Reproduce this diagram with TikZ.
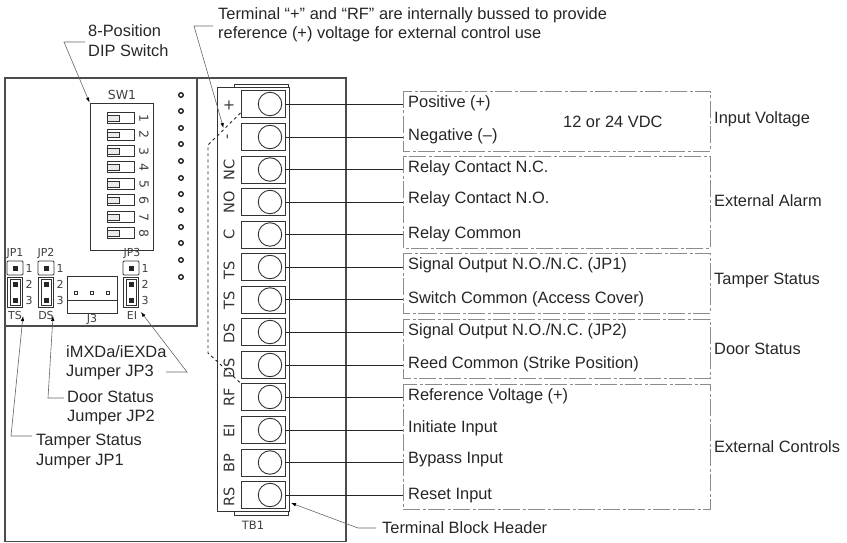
\documentclass[tikz,border=0pt]{standalone}
\usepackage{fontspec}
\setmainfont{Liberation Sans}
\newfontfamily\pcbfont{DejaVu Sans}
\usetikzlibrary{calc,arrows.meta}
\tikzset{
	pic unit/.style={x=1pt,y=-1pt},
	board/.style={draw=black!70,line width=1.2pt},
	part/.style={draw=black!80,line width=0.9pt},
	wire/.style={draw=black!85,line width=0.9pt},
	group/.style={draw=black!45,line width=0.9pt,dash pattern=on 17pt off 2.5pt on 3pt off 2.5pt},
	leader/.style={draw=black!60,line width=0.6pt,-{Latex[length=5pt,width=3.5pt,black]}},
	note/.style={inner sep=0pt,anchor=west,text=black!85,font=\fontsize{16.4}{16.4}\selectfont},
	termtext/.style={inner sep=0pt,rotate=90,text=black!80,font=\pcbfont\fontsize{14.5}{14.5}\selectfont},
	pcbtext/.style={inner sep=0pt,text=black!75,font=\pcbfont\fontsize{11}{11}\selectfont},
	pinhole/.style={draw=black!90,line width=1.3pt}
}
% terminal cell: name, y of screw, y of text, text
\def\termcell(#1)(#2)(#3)#4{
	\node[part,minimum width=44pt,minimum height=27pt,inner sep=0pt] (#1) at (263, #2) {};
	\node[part,circle,minimum size=23.5pt,inner sep=0pt] (#1s) at (270, #2) {};
	\node[termtext] (#1t) at (229, #3) {#4};
	\coordinate (#1w) at (403, #2);
	\draw[wire] (#1.east) -- (#1w);
}
% dip switch row: name, y, digit
\def\dipsw(#1)(#2)#3{
	\node[part,minimum width=27pt,minimum height=11pt,inner sep=0pt] (#1) at (120.5, #2) {};
	\draw[part,line width=0.6pt,fill=black!8] (107, #2-2.5) rectangle (119, #2+3);
	\node[pcbtext,rotate=-90,font=\pcbfont\fontsize{12.5}{12.5}\selectfont] (#1t) at (144, #2) {#3};
}
% jumper: name, x, y of pin 1
\def\jumper(#1)(#2)(#3){
	\node[part,minimum width=16pt,minimum height=14pt,inner sep=0pt,rounded corners=1pt] (#1a) at (#2, #3) {};
	\node[part,line width=1.5pt,minimum width=15pt,minimum height=30pt,inner sep=0pt] (#1b) at (#2, #3+24.5) {};
	\node[part,line width=0.5pt,minimum width=10pt,minimum height=26pt,inner sep=0pt] (#1c) at (#2, #3+24.5) {};
	\fill[black!85] (#2-2.5, #3-2.5) rectangle (#2+2.5, #3+2.5);
	\fill[black!85] (#2-2.5, #3+14) rectangle (#2+2.5, #3+19);
	\fill[black!85] (#2-2.5, #3+30) rectangle (#2+2.5, #3+35);
	\node[pcbtext] (#1n1) at (#2+14, #3) {1};
	\node[pcbtext] (#1n2) at (#2+14, #3+16) {2};
	\node[pcbtext] (#1n3) at (#2+14, #3+32) {3};
}
\begin{document}
\begin{tikzpicture}[pic unit]
	%%%%% START %%%%%
	\useasboundingbox (0, 0) rectangle (847, 543);

	\draw[board] (5, 78) rectangle (346, 541.5);
	\draw[board] (197, 78) -- (197, 326) -- (5, 326);

	\draw[part] (234, 87) -- (234, 84) -- (288, 84) -- (288, 87);
	\draw[part] (234, 511) -- (234, 515) -- (288, 515) -- (288, 511);
	\node[part,minimum width=72pt,minimum height=424pt,inner sep=0pt] (block) at (253, 299) {};

	\termcell(t1)(104)(105){+}
	\termcell(t2)(137)(137){-}
	\termcell(t3)(169.5)(170){NC}
	\termcell(t4)(202)(202){NO}
	\termcell(t5)(234.5)(234){C}
	\termcell(t6)(267)(270){TS}
	\termcell(t7)(299.5)(300){TS}
	\termcell(t8)(332)(333){DS}
	\termcell(t9)(365)(368){DS}
	\termcell(t10)(397)(397){RF}
	\termcell(t11)(430)(431){EI}
	\termcell(t12)(462.5)(463){BP}
	\termcell(t13)(495)(497){RS}
	\node[pcbtext,font=\pcbfont\fontsize{11.5}{11.5}\selectfont] (tb) at (253, 525) {TB1};

	\coordinate (bus1) at (208, 145);
	\coordinate (bus2) at (208, 353);
	\draw[black!85,line width=0.9pt,dashed] ($(t1.south west)+(0, -5)$) -- (bus1) -- (bus2) -- (t10.north west);

	\draw[group] (403, 91) rectangle (710, 151);
	\draw[group] (403, 156) rectangle (710, 248);
	\draw[group] (403, 253) rectangle (710, 313);
	\draw[group] (403, 319) rectangle (710, 378);
	\draw[group] (403, 384) rectangle (710, 509);

	\node[note] (l1) at (408, 103) {Positive (+)};
	\node[note] (l2) at (408, 136) {Negative (–)};
	\node[note] (l3) at (408, 168) {Relay Contact N.C.};
	\node[note] (l4) at (408, 199) {Relay Contact N.O.};
	\node[note] (l5) at (408, 234) {Relay Common};
	\node[note] (l6) at (408, 265) {Signal Output N.O./N.C. (JP1)};
	\node[note] (l7) at (408, 299) {Switch Common (Access Cover)};
	\node[note] (l8) at (408, 331) {Signal Output N.O./N.C. (JP2)};
	\node[note] (l9) at (408, 364) {Reed Common (Strike Position)};
	\node[note] (l10) at (408, 396) {Reference Voltage (+)};
	\node[note] (l11) at (408, 428) {Initiate Input};
	\node[note] (l12) at (408, 460) {Bypass Input};
	\node[note] (l13) at (408, 496) {Reset Input};
	\node[note] (vdc) at (563, 122) {12 or 24 VDC};

	\node[note] (input) at (714, 119) {Input Voltage};
	\node[note] (alarm) at (714, 201) {External Alarm};
	\node[note] (tamper) at (714, 280) {Tamper Status};
	\node[note] (door) at (714, 349) {Door Status};
	\node[note] (ctrl) at (714, 447) {External Controls};

	\node[part,minimum width=63pt,minimum height=147pt,inner sep=0pt] (dip) at (121.5, 176.5) {};
	\node[pcbtext,font=\pcbfont\fontsize{12.5}{12.5}\selectfont] (sw1) at (122, 95) {SW1};
	\dipsw(s1)(118){1}
	\dipsw(s2)(134.5){2}
	\dipsw(s3)(151){3}
	\dipsw(s4)(167){4}
	\dipsw(s5)(184){5}
	\dipsw(s6)(200){6}
	\dipsw(s7)(217){7}
	\dipsw(s8)(233){8}

	\draw[pinhole] (181, 95) circle (2.3);
	\draw[pinhole] (181, 111) circle (2.3);
	\draw[pinhole] (181, 128) circle (2.3);
	\draw[pinhole] (181, 144) circle (2.3);
	\draw[pinhole] (181, 161) circle (2.3);
	\draw[pinhole] (181, 178) circle (2.3);
	\draw[pinhole] (181, 194) circle (2.3);
	\draw[pinhole] (181, 210) circle (2.3);
	\draw[pinhole] (181, 227) circle (2.3);
	\draw[pinhole] (181, 243) circle (2.3);
	\draw[pinhole] (181, 260) circle (2.3);
	\draw[pinhole] (181, 277) circle (2.3);

	\jumper(jpa)(15)(268)
	\jumper(jpb)(46)(268)
	\jumper(jpc)(131)(268)
	\node[pcbtext] (jp1) at (15, 254) {JP1};
	\node[pcbtext] (jp2) at (46, 254) {JP2};
	\node[pcbtext] (jp3) at (132, 254) {JP3};
	\node[pcbtext] (ts) at (15, 315) {TS};
	\node[pcbtext] (ds) at (46, 315) {DS};
	\node[pcbtext] (ei) at (132, 315) {EI};

	\node[part,minimum width=50pt,minimum height=37pt,inner sep=0pt] (j3) at (92, 294.5) {};
	\coordinate (j3split) at (92, 300);
	\draw[part] (j3.west |- j3split) -- (j3.east |- j3split);
	\draw[part] (74.5, 291) rectangle (77.5, 294);
	\draw[part] (90.5, 291) rectangle (93.5, 294);
	\draw[part] (106.5, 291) rectangle (109.5, 294);
	\node[pcbtext] (j3t) at (92, 320) {J3};

	\node[note,align=left] (dipnote) at (88, 40.5) {8-Position\\[3pt]DIP Switch};
	\node[note,align=left] (busnote) at (218, 25) {Terminal “+” and “RF” are internally bussed to provide\\[2.5pt]reference (+) voltage for external control use};
	\node[note,align=left] (imx) at (66, 362.5) {iMXDa/iEXDa\\[3pt]Jumper JP3};
	\node[note,align=left] (doornote) at (67, 408) {Door Status\\[3pt]Jumper JP2};
	\node[note,align=left] (tampernote) at (36, 451.5) {Tamper Status\\[3pt]Jumper JP1};
	\node[note] (tbnote) at (382, 528) {Terminal Block Header};

	\coordinate (dipend) at (85, 42);
	\coordinate (dipbend) at (64, 42);
	\coordinate (busend) at (213, 26);
	\coordinate (busbend) at (194, 26);
	\coordinate (bustip) at (223.5, 128);
	\coordinate (imxend) at (166, 372);
	\coordinate (imxbend) at (187, 372);
	\coordinate (imxtip) at (141, 312);
	\coordinate (doorend) at (64, 398);
	\coordinate (doorbend) at (48, 398);
	\coordinate (doortip) at (53, 316);
	\coordinate (tamperend) at (32, 436);
	\coordinate (tamperbend) at (11, 436);
	\coordinate (tampertip) at (23, 316);
	\coordinate (tbend) at (376, 528);
	\coordinate (tbbend) at (358, 528);
	\coordinate (tbtip) at (291, 503);

	\draw[leader] (dipend) -- (dipbend) -- (dip.north west);
	\draw[leader] (busend) -- (busbend) -- (bustip);
	\draw[leader] (imxend) -- (imxbend) -- (imxtip);
	\draw[leader] (doorend) -- (doorbend) -- (doortip);
	\draw[leader] (tamperend) -- (tamperbend) -- (tampertip);
	\draw[leader] (tbend) -- (tbbend) -- (tbtip);
	%%%%% END %%%%%
\end{tikzpicture}
\end{document}
